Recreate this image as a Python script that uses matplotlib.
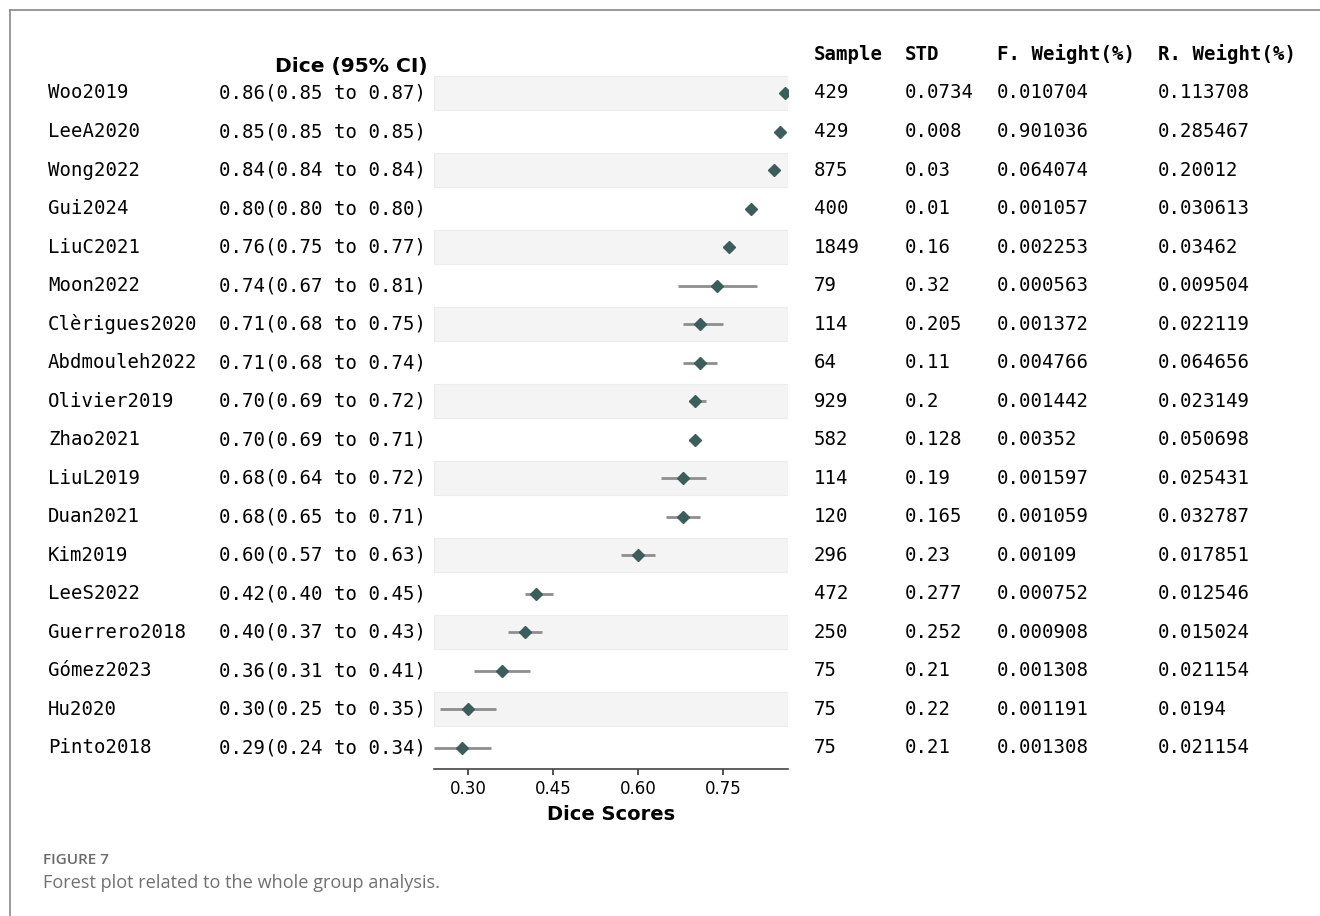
import matplotlib.pyplot as plt
import matplotlib.transforms as mtransforms
from matplotlib.lines import Line2D

studies = ["Woo2019", "LeeA2020", "Wong2022", "Gui2024", "LiuC2021", "Moon2022",
           "Clèrigues2020", "Abdmouleh2022", "Olivier2019", "Zhao2021", "LiuL2019",
           "Duan2021", "Kim2019", "LeeS2022", "Guerrero2018", "Gómez2023", "Hu2020",
           "Pinto2018"]
dice = [0.86, 0.85, 0.84, 0.80, 0.76, 0.74, 0.71, 0.71, 0.70, 0.70, 0.68, 0.68,
        0.60, 0.42, 0.40, 0.36, 0.30, 0.29]
ci_low = [0.85, 0.85, 0.84, 0.80, 0.75, 0.67, 0.68, 0.68, 0.69, 0.69, 0.64, 0.65,
          0.57, 0.40, 0.37, 0.31, 0.25, 0.24]
ci_high = [0.87, 0.85, 0.84, 0.80, 0.77, 0.81, 0.75, 0.74, 0.72, 0.71, 0.72, 0.71,
           0.63, 0.45, 0.43, 0.41, 0.35, 0.34]
sample = ["429", "429", "875", "400", "1849", "79", "114", "64", "929", "582", "114",
          "120", "296", "472", "250", "75", "75", "75"]
std = ["0.0734", "0.008", "0.03", "0.01", "0.16", "0.32", "0.205", "0.11", "0.2",
       "0.128", "0.19", "0.165", "0.23", "0.277", "0.252", "0.21", "0.22", "0.21"]
f_weight = ["0.010704", "0.901036", "0.064074", "0.001057", "0.002253", "0.000563",
            "0.001372", "0.004766", "0.001442", "0.00352", "0.001597", "0.001059",
            "0.00109", "0.000752", "0.000908", "0.001308", "0.001191", "0.001308"]
r_weight = ["0.113708", "0.285467", "0.20012", "0.030613", "0.03462", "0.009504",
            "0.022119", "0.064656", "0.023149", "0.050698", "0.025431", "0.032787",
            "0.017851", "0.012546", "0.015024", "0.021154", "0.0194", "0.021154"]
xticks = [0.30, 0.45, 0.60, 0.75]

MONO = "DejaVu Sans Mono"
FS = 13.7
marker_color = "#3c5e5a"
bar_color = "#8e8e8e"

fig = plt.figure(figsize=(13.2, 9.16), dpi=100)
ax = fig.add_axes([0.3288, 0.1605, 0.2682, 0.759])

n = len(studies)
rows = list(range(n))
for i in rows:
    if i % 2 == 0:
        ax.axhspan(i - 0.44, i + 0.44, color="#f4f4f4", ec="#ececec", lw=0.8, zorder=0)

for i in rows:
    ax.plot([ci_low[i], ci_high[i]], [i, i], color=bar_color, lw=2, zorder=2,
            solid_capstyle="butt")
ax.plot(dice, rows, ls="none", marker="D", ms=6.5, color=marker_color, zorder=3)

ax.set_xlim(0.24, 0.865)
ax.set_ylim(n - 0.45, -0.5)
ax.set_yticks([])
ax.set_xticks(xticks)
ax.set_xticklabels([f"{t:.2f}" for t in xticks], fontsize=12)
ax.tick_params(axis="x", length=4, width=1.2, color="#333333", pad=4)
for side in ["top", "right", "left"]:
    ax.spines[side].set_visible(False)
ax.spines["bottom"].set_color("#444444")
ax.spines["bottom"].set_linewidth(1.2)
ax.set_xlabel("Dice Scores", fontsize=14, fontweight="bold", labelpad=5)

# table columns: x in figure fraction, y on the row scale
trans = mtransforms.blended_transform_factory(fig.transFigure, ax.transData)
for i in rows:
    ax.text(0.0364, i, studies[i], transform=trans, ha="left", va="center",
            family=MONO, fontsize=FS, clip_on=False)
    ax.text(0.3230, i, f"{dice[i]:.2f}({ci_low[i]:.2f} to {ci_high[i]:.2f})",
            transform=trans, ha="right", va="center", family=MONO, fontsize=FS,
            clip_on=False)
    ax.text(0.6167, i, sample[i], transform=trans, ha="left", va="center",
            family=MONO, fontsize=FS, clip_on=False)
    ax.text(0.6856, i, std[i], transform=trans, ha="left", va="center",
            family=MONO, fontsize=FS, clip_on=False)
    ax.text(0.7553, i, f_weight[i], transform=trans, ha="left", va="center",
            family=MONO, fontsize=FS, clip_on=False)
    ax.text(0.8773, i, r_weight[i], transform=trans, ha="left", va="center",
            family=MONO, fontsize=FS, clip_on=False)

ax.text(0.3240, -0.70, "Dice (95% CI)", transform=trans, ha="right", va="center",
        fontsize=14.6, fontweight="bold", clip_on=False)
headers = [(0.6167, "Sample"), (0.6856, "STD"), (0.7553, "F. Weight(%)"),
           (0.8773, "R. Weight(%)")]
for x, label in headers:
    ax.text(x, -1.0, label, transform=trans, ha="left", va="center", family=MONO,
            fontsize=FS, fontweight="bold", clip_on=False)

# frame around the figure panel
fig.add_artist(Line2D([0.0076, 0.0076], [0.0, 0.989], transform=fig.transFigure,
                      color="#888888", lw=1.2))
fig.add_artist(Line2D([0.0076, 1.0], [0.989, 0.989], transform=fig.transFigure,
                      color="#888888", lw=1.2))

fig.text(0.0326, 0.061, "FIGURE 7", fontsize=11, color="#6a6a6a", family="Open Sans",
         fontweight="semibold", va="center")
fig.text(0.0326, 0.036, "Forest plot related to the whole group analysis.",
         fontsize=13.1, color="#707070", family="Open Sans", va="center")

fig.savefig("out.png", dpi=100)
